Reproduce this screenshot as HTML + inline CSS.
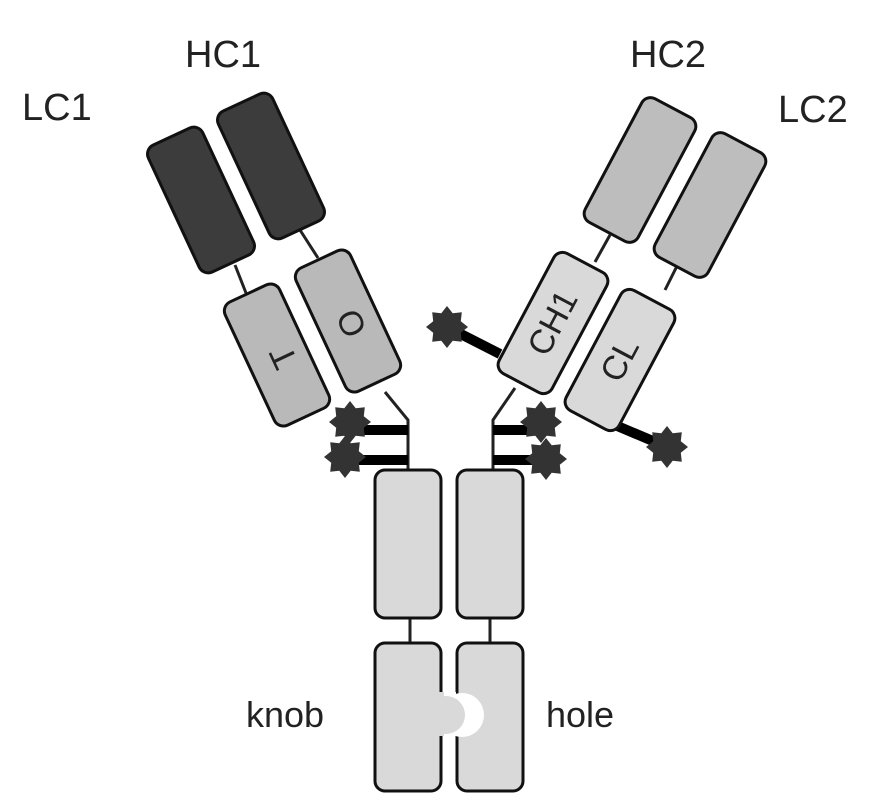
<!DOCTYPE html>
<html><head><meta charset="utf-8"><style>
html,body{margin:0;padding:0;background:#fff;}
svg{display:block;}
text{font-family:"Liberation Sans",sans-serif;fill:#222;}
</style></head><body>
<svg width="883" height="805" viewBox="0 0 883 805" xmlns="http://www.w3.org/2000/svg">
<defs>
<polygon id="star" points="0,-21 5.7,-13.8 14.8,-14.8 13.8,-5.7 21,0 13.8,5.7 14.8,14.8 5.7,13.8 0,21 -5.7,13.8 -14.8,14.8 -13.8,5.7 -21,0 -13.8,-5.7 -14.8,-14.8 -5.7,-13.8" fill="#333"/>
</defs>
<g stroke="#222" stroke-width="3">
<line x1="235" y1="265" x2="246" y2="293"/>
<line x1="300" y1="230" x2="318" y2="258"/>
<line x1="610" y1="235" x2="595" y2="262"/>
<line x1="680" y1="260" x2="665" y2="290"/>
<line x1="410" y1="618" x2="410" y2="643"/>
<line x1="490" y1="618" x2="490" y2="643"/>
<polyline points="385,392 408,420 408,470" fill="none"/>
<polyline points="515,388 493,420 493,470" fill="none"/>
</g>
<g stroke="#000" stroke-width="10">
<line x1="355" y1="430" x2="408" y2="430"/>
<line x1="355" y1="460" x2="408" y2="460"/>
<line x1="493" y1="430" x2="535" y2="430"/>
<line x1="493" y1="460" x2="535" y2="460"/>
<line x1="447" y1="327" x2="500" y2="354"/>
<line x1="615" y1="425" x2="667" y2="447"/>
</g>
<g stroke="#111" stroke-width="3">
<rect x="-30" y="-70" width="60" height="140" rx="10" fill="#3c3c3c" transform="translate(201,200) rotate(-25)"/>
<rect x="-30" y="-70" width="60" height="140" rx="10" fill="#3c3c3c" transform="translate(271,166) rotate(-25)"/>
<rect x="-30" y="-68" width="60" height="136" rx="10" fill="#b9b9b9" transform="translate(277,355) rotate(-25)"/>
<rect x="-30" y="-68" width="60" height="136" rx="10" fill="#b9b9b9" transform="translate(348,321) rotate(-25)"/>
<rect x="-30" y="-70" width="60" height="140" rx="10" fill="#bdbdbd" transform="translate(640,170) rotate(28)"/>
<rect x="-30" y="-70" width="60" height="140" rx="10" fill="#bdbdbd" transform="translate(710,205) rotate(28)"/>
<rect x="-30" y="-68" width="60" height="136" rx="10" fill="#d9d9d9" transform="translate(553,323) rotate(28)"/>
<rect x="-30" y="-68" width="60" height="136" rx="10" fill="#d9d9d9" transform="translate(620,360) rotate(28)"/>
<rect x="375" y="470" width="66" height="148" rx="10" fill="#d9d9d9"/>
<rect x="457" y="470" width="66" height="148" rx="10" fill="#d9d9d9"/>
<rect x="375" y="643" width="66" height="148" rx="10" fill="#d9d9d9"/>
<rect x="457" y="643" width="66" height="148" rx="10" fill="#d9d9d9"/>
</g>
<!-- knob/hole -->
<rect x="442" y="692" width="14" height="44" fill="#fff"/>
<circle cx="462" cy="715" r="22" fill="#fff"/>
<rect x="436" y="692" width="8" height="44" fill="#d9d9d9"/>
<circle cx="446" cy="715" r="19" fill="#d9d9d9"/>
<use href="#star" x="350" y="422"/>
<use href="#star" x="345" y="457"/>
<use href="#star" x="541" y="422"/>
<use href="#star" x="546" y="459"/>
<use href="#star" x="447" y="327"/>
<use href="#star" x="667" y="447"/>
<text font-size="34" transform="translate(284,357) rotate(-115)" text-anchor="middle" dominant-baseline="central">T</text>
<text font-size="34" transform="translate(352,323) rotate(-115)" text-anchor="middle" dominant-baseline="central">O</text>
<text font-size="34" transform="translate(553,323) rotate(-62)" text-anchor="middle" dominant-baseline="central">CH1</text>
<text font-size="34" transform="translate(620,360) rotate(-62)" text-anchor="middle" dominant-baseline="central">CL</text>
<text x="185" y="67" font-size="38">HC1</text>
<text x="22" y="120" font-size="38">LC1</text>
<text x="630" y="67" font-size="38">HC2</text>
<text x="778" y="122" font-size="38">LC2</text>
<text x="246" y="727" font-size="36">knob</text>
<text x="546" y="727" font-size="36">hole</text>
</svg>
</body></html>
